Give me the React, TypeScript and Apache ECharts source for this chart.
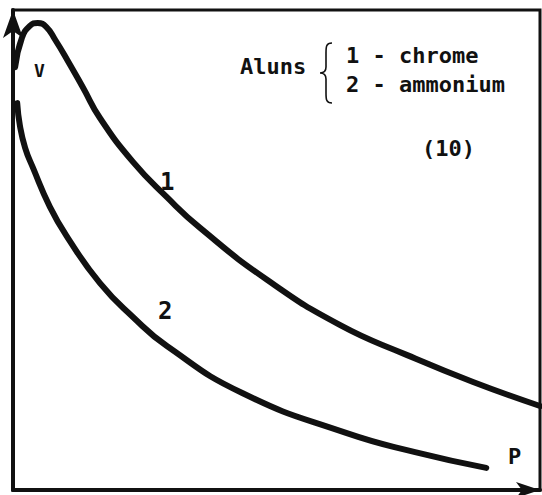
import React, { useEffect, useRef } from "react";
import * as echarts from "echarts";

// Curve 1 – chrome alum (P, V) (P and V on 0–100 scales)
const chromeP = [0.4, 1.7, 3.2, 4.7, 6.3, 8.0, 10.3, 13.3, 16.5, 22.8, 29.2, 35.5, 48.2, 62.0, 74.8, 87.3, 100];
const chromeV = [88.1, 94.2, 96.7, 97.3, 96.5, 93.8, 89.6, 83.8, 77.5, 68.3, 61.0, 54.6, 43.8, 34.4, 28.1, 22.5, 17.5];

// Curve 2 – ammonium alum
const ammonP = [0.8, 1.3, 2.3, 3.8, 7.0, 10.3, 16.5, 22.8, 29.2, 43.5, 63.2, 76.3, 89.8];
const ammonV = [80.6, 76.0, 71.3, 67.1, 59.0, 52.7, 43.1, 36.0, 30.0, 20.2, 11.9, 7.9, 4.6];

const legendTitle = "Aluns";
const legendLines = ["1 - chrome", "2 - ammonium"];
const figureNumber = "(10)";
const curveLabels = ["1", "2"];
const axisNames = { x: "P", y: "V" };

const INK = "#111";
const FONT = "'DejaVu Sans Mono', monospace";

const BRACE =
  "M12,0 C6,0 6,4 6,10 L6,24 C6,28 4,30 0,30 C4,30 6,32 6,36 L6,50 C6,56 6,60 12,60";

let registered = false;

export default function App() {
  const ref = useRef<HTMLDivElement>(null);
  useEffect(() => {
    document.body.style.margin = "0";
    if (!registered) {
      echarts.graphic.registerShape("brace", echarts.graphic.extendPath(BRACE, {}));
      registered = true;
    }
    const chart = echarts.init(ref.current!, null, { renderer: "svg" });
    const pts = (xs: number[], ys: number[]) => xs.map((x, i) => [x, ys[i]]);
    const txt = (text: string, x: number, y: number, size: number, weight = "bold") => ({
      type: "text",
      x,
      y,
      style: {
        text,
        fill: INK,
        font: `${weight} ${size}px ${FONT}`,
        textVerticalAlign: "middle",
      },
    });
    chart.setOption({
      animation: false,
      backgroundColor: "#fff",
      grid: {
        left: 13,
        right: 2,
        top: 10,
        bottom: 5,
        show: true,
        borderColor: INK,
        borderWidth: 3,
        backgroundColor: "transparent",
      },
      xAxis: {
        type: "value",
        min: 0,
        max: 100,
        axisLine: {
          show: true,
          onZero: false,
          symbol: ["none", "arrow"],
          symbolSize: [12, 24],
          lineStyle: { color: INK, width: 4 },
        },
        axisTick: { show: false },
        axisLabel: { show: false },
        splitLine: { show: false },
      },
      yAxis: {
        type: "value",
        min: 0,
        max: 100,
        axisLine: {
          show: true,
          onZero: false,
          symbol: ["none", "arrow"],
          symbolSize: [15, 28],
          lineStyle: { color: INK, width: 4 },
        },
        axisTick: { show: false },
        axisLabel: { show: false },
        splitLine: { show: false },
      },
      series: [
        {
          name: "chrome",
          type: "line",
          data: pts(chromeP, chromeV),
          smooth: 0.5,
          showSymbol: false,
          lineStyle: { color: INK, width: 6, cap: "round" },
        },
        {
          name: "ammonium",
          type: "line",
          data: pts(ammonP, ammonV),
          smooth: 0.5,
          showSymbol: false,
          lineStyle: { color: INK, width: 6, cap: "round" },
        },
      ],
      graphic: [
        txt(legendTitle, 240, 66, 22),
        {
          type: "brace",
          x: 320,
          y: 43,
          style: { stroke: INK, fill: "none", lineWidth: 1.6 },
        },
        txt(legendLines[0], 346, 55, 22),
        txt(legendLines[1], 346, 84, 22),
        txt(figureNumber, 422, 148, 22),
        txt(curveLabels[0], 160, 182, 24),
        txt(curveLabels[1], 158, 311, 24),
        txt(axisNames.y, 34, 70, 18),
        txt(axisNames.x, 508, 456, 22),
      ],
    });
    return () => chart.dispose();
  }, []);
  return (
    <div
      ref={ref}
      style={{ position: "absolute", left: 0, top: 0, width: 542, height: 495 }}
    />
  );
}
